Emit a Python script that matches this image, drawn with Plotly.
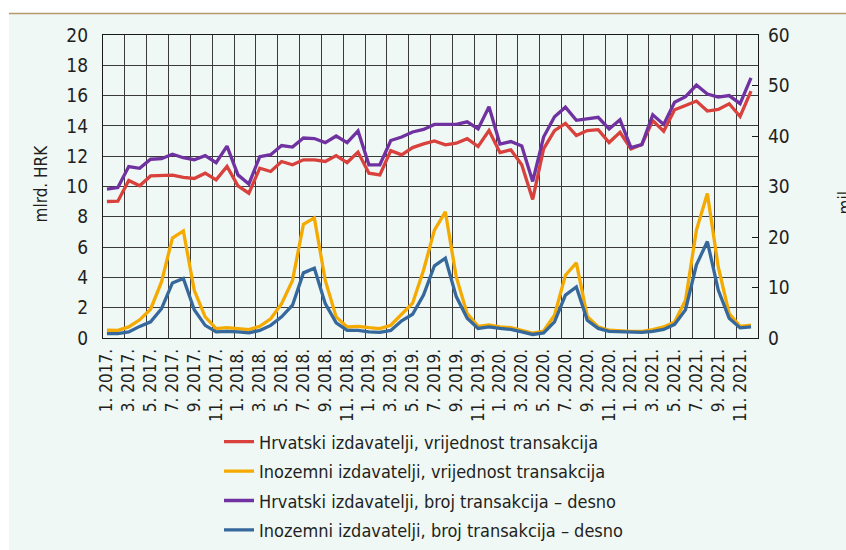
import plotly.graph_objects as go

# ---- data (monthly, Jan 2017 - Dec 2021) ----
months = list(range(60))
tick_vals = list(range(0, 60, 2))
tick_text = [f"{m}. {y}." for y in range(2017, 2022) for m in (1, 3, 5, 7, 9, 11)]

hr_value = [9.01, 9.03, 10.4, 10.05, 10.7, 10.7, 10.75, 10.6, 10.53, 10.88, 10.44, 11.32,
            10.05, 9.56, 11.21, 10.99, 11.65, 11.43, 11.76, 11.76, 11.65, 12.04, 11.58, 12.27,
            10.88, 10.77, 12.37, 12.09, 12.57, 12.81, 13.01, 12.75, 12.86, 13.16, 12.64, 13.69,
            12.24, 12.42, 11.43, 9.15, 12.48, 13.69, 14.17, 13.36, 13.69, 13.75, 12.9, 13.58,
            12.48, 12.77, 14.35, 13.65, 15.06, 15.35, 15.64, 14.98, 15.09, 15.46, 14.62, 16.29]

fo_value = [0.51, 0.5, 0.73, 1.2, 1.9, 3.7, 6.6, 7.07, 3.15, 1.39, 0.62, 0.68,
            0.62, 0.55, 0.77, 1.27, 2.27, 3.8, 7.5, 7.93, 3.8, 1.39, 0.73, 0.77,
            0.68, 0.62, 0.84, 1.61, 2.3, 4.47, 7.12, 8.33, 4.03, 1.61, 0.77, 0.86,
            0.73, 0.68, 0.51, 0.33, 0.46, 1.5, 4.14, 4.96, 1.43, 0.73, 0.51, 0.46,
            0.44, 0.44, 0.55, 0.73, 1.06, 2.49, 7.12, 9.54, 4.69, 1.61, 0.77, 0.85]

hr_count = [29.5, 29.8, 33.95, 33.6, 35.4, 35.5, 36.4, 35.7, 35.3, 36.1, 34.7, 38.0,
            32.3, 30.5, 35.9, 36.3, 38.1, 37.8, 39.6, 39.5, 38.7, 40.0, 38.7, 41.0,
            34.3, 34.3, 39.1, 39.8, 40.8, 41.3, 42.3, 42.3, 42.3, 42.8, 41.4, 45.8,
            38.4, 38.9, 38.0, 31.0, 39.8, 43.8, 45.7, 43.1, 43.4, 43.7, 41.4, 43.2,
            37.7, 38.3, 44.2, 42.3, 46.7, 47.8, 50.1, 48.3, 47.7, 48.0, 46.4, 51.5]

fo_count = [0.87, 0.87, 1.2, 2.3, 3.2, 5.8, 10.9, 11.8, 5.6, 2.5, 1.2, 1.3,
            1.2, 1.0, 1.5, 2.5, 4.2, 6.5, 12.9, 13.8, 6.8, 3.0, 1.5, 1.5,
            1.2, 1.1, 1.5, 3.4, 4.7, 8.5, 14.3, 15.8, 8.2, 3.9, 1.9, 2.2,
            1.9, 1.7, 1.2, 0.7, 1.0, 3.2, 8.5, 10.1, 3.5, 1.9, 1.3, 1.2,
            1.1, 1.1, 1.3, 1.7, 2.7, 5.6, 14.5, 19.1, 9.5, 3.9, 2.0, 2.2]

names = ["Hrvatski izdavatelji, vrijednost transakcija",
         "Inozemni izdavatelji, vrijednost transakcija",
         "Hrvatski izdavatelji, broj transakcija – desno",
         "Inozemni izdavatelji, broj transakcija – desno"]
colors = ["#d8413c", "#f4aa00", "#7032a0", "#36689b"]

grid_vals = [2 * k - 0.36 for k in range(31)]
x_range = [-0.36, 59.64]

FONT = "Liberation Sans Narrow, DejaVu Sans Condensed, Arial Narrow, sans-serif"
TXT = "#231f20"
BG = "#eff8f5"

fig = go.Figure()
series = [(hr_value, "y"), (fo_value, "y"), (hr_count, "y2"), (fo_count, "y2")]
for i, (vals, ax) in enumerate(series):
    fig.add_trace(go.Scatter(
        x=months, y=vals, name=names[i], yaxis=ax, mode="lines",
        line=dict(color=colors[i], width=3.3),
        legendgroup=f"g{i}", legendrank=i + 1))

# invisible trace to host the gridline axis
fig.add_trace(go.Scatter(x=[0], y=[0], xaxis="x2", yaxis="y", mode="markers",
                         marker=dict(opacity=0), showlegend=False, hoverinfo="skip"))

fig.update_layout(
    width=846, height=550,
    margin=dict(l=103, r=88, t=35, b=212, autoexpand=False),
    paper_bgcolor="white", plot_bgcolor=BG,
    font=dict(family=FONT, color=TXT, size=18),
    showlegend=True,
    legend=dict(x=(219 - 103) / 655, y=(337.5 - 423) / 303, xanchor="left", yanchor="top",
                bgcolor="rgba(0,0,0,0)", font=dict(size=18, family=FONT, color=TXT),
                traceorder="grouped", tracegroupgap=3, itemwidth=30),
    xaxis=dict(range=x_range, tickmode="array", tickvals=tick_vals, ticktext=tick_text,
               tickangle=-90, showgrid=False, zeroline=False, automargin=False,
               showline=True, mirror=True, linecolor="#1a1a1a", linewidth=1.3,
               ticks="", tickfont=dict(size=17), ticklabelstandoff=3),
    xaxis2=dict(overlaying="x", range=x_range, tickmode="array", tickvals=grid_vals,
                showticklabels=False, showgrid=True, gridcolor="#3a3a3a", gridwidth=1.2,
                zeroline=False, showline=False, ticks="", automargin=False),
    yaxis=dict(range=[0, 20], tickmode="array", tickvals=list(range(0, 21, 2)),
               showgrid=True, gridcolor="#3a3a3a", gridwidth=1.2, zeroline=False,
               showline=True, linecolor="#1a1a1a", linewidth=1.3, ticks="", automargin=False,
               tickfont=dict(size=19), ticklabelstandoff=10),
    yaxis2=dict(range=[0, 60], overlaying="y", side="right", tickmode="array",
                tickvals=list(range(0, 61, 10)), showgrid=False, zeroline=False,
                showline=True, linecolor="#1a1a1a", linewidth=1.3, automargin=False,
                ticks="inside", ticklen=6, tickcolor="#1a1a1a",
                tickfont=dict(size=19), ticklabelstandoff=5),
    shapes=[
        dict(type="rect", xref="paper", yref="paper", x0=(9 - 103) / 655, x1=(850 - 103) / 655,
             y0=(337.5 - 555) / 303, y1=(337.5 - 13) / 303, fillcolor=BG,
             line=dict(width=0), layer="below"),
        dict(type="line", xref="paper", yref="paper", x0=(9 - 103) / 655, x1=(850 - 103) / 655,
             y0=(337.5 - 13) / 303, y1=(337.5 - 13) / 303,
             line=dict(color="#b59a6b", width=1.5)),
    ],
    annotations=[
        dict(text="mlrd. HRK", textangle=-90, xref="paper", yref="paper",
             x=(40 - 103) / 655, y=(337.5 - 183) / 303, xanchor="center", yanchor="middle",
             showarrow=False, font=dict(size=17, family=FONT, color=TXT)),
        dict(text="mil.", textangle=-90, xref="paper", yref="paper",
             x=(832 - 103) / 655, y=(337.5 - 200) / 303, xanchor="left", yanchor="middle",
             showarrow=False, font=dict(size=17, family=FONT, color=TXT)),
    ],
)

fig.write_html("out.html", config={"displayModeBar": False},
               post_script="document.body.style.margin='0';"
                           "document.body.style.overflow='hidden';")
